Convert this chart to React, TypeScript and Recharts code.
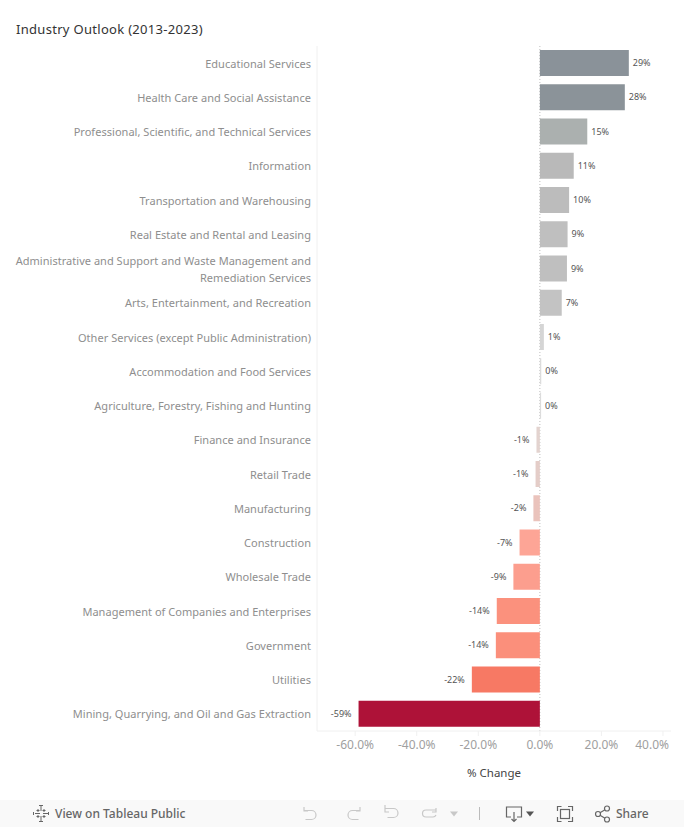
import React from "react";
import { BarChart, Bar, XAxis, YAxis, Cell, LabelList, ReferenceLine } from "recharts";

const categories = [
  "Educational Services",
  "Health Care and Social Assistance",
  "Professional, Scientific, and Technical Services",
  "Information",
  "Transportation and Warehousing",
  "Real Estate and Rental and Leasing",
  "Administrative and Support and Waste Management and Remediation Services",
  "Arts, Entertainment, and Recreation",
  "Other Services (except Public Administration)",
  "Accommodation and Food Services",
  "Agriculture, Forestry, Fishing and Hunting",
  "Finance and Insurance",
  "Retail Trade",
  "Manufacturing",
  "Construction",
  "Wholesale Trade",
  "Management of Companies and Enterprises",
  "Government",
  "Utilities",
  "Mining, Quarrying, and Oil and Gas Extraction",
];
const changes = [28.9, 27.6, 15.4, 11.0, 9.5, 9.0, 8.8, 7.1, 1.3, 0.45, 0.4, -1.1, -1.4, -2.1, -6.6, -8.6, -14.0, -14.3, -22.1, -58.9];
const colors = [
  "#8a9299", "#8b9399", "#abb0af", "#b9b9b9", "#bcbcbc", "#bfbfbf", "#bfbfbf", "#c3c3c3", "#d5d5d5", "#dcdcdc",
  "#dcdcdc", "#e3d3cf", "#e4cdc8", "#eac3bc", "#fda596", "#fc9e8e", "#fb917d", "#fb8f7b", "#f77964", "#ae1238",
];
const xTicks = [-60, -40, -20, 0, 20, 40];
const data = categories.map((name, i) => ({ name, change: changes[i], color: colors[i] }));

const FONT = "'Noto Sans', sans-serif";

function wrap(label: string): string[] {
  const lines: string[] = [];
  let cur = "";
  for (const w of label.split(" ")) {
    const next = cur ? cur + " " + w : w;
    if (next.length > 52) {
      lines.push(cur);
      cur = w;
    } else cur = next;
  }
  lines.push(cur);
  return lines;
}

function CategoryTick({ x, y, payload }: any) {
  const lines = wrap(payload.value);
  const top = y + 4.5 - ((lines.length - 1) * 17) / 2;
  return (
    <text x={x} y={top} textAnchor="end" fontSize={11} letterSpacing={0.03} fontFamily={FONT} fill="#8e8e8e">
      {lines.map((l, i) => (
        <tspan key={i} x={x} y={top + i * 17}>{l}</tspan>
      ))}
    </text>
  );
}

function ValueTick({ x, y, payload }: any) {
  const last = payload.value === 40;
  return (
    <text x={last ? x + 6 : x} y={y + 11} textAnchor={last ? "end" : "middle"} fontSize={12} fontFamily={FONT} fill="#a0a0a0">
      {payload.value.toFixed(1) + "%"}
    </text>
  );
}

function BarValue({ x, y, width, height, value }: any) {
  const neg = value < 0;
  const left = neg ? Math.min(x, x + width) : Math.max(x, x + width);
  return (
    <text
      x={neg ? left - 7 : left + 4}
      y={y + height / 2 + 3}
      textAnchor={neg ? "end" : "start"}
      fontSize={9}
      fontFamily={FONT}
      fill="#555"
    >
      {Math.round(value) === 0 ? "0%" : Math.round(value) + "%"}
    </text>
  );
}

const iconStroke = "#c8c8c8";
const darkStroke = "#666";

function Footer() {
  return (
    <div style={{ position: "absolute", left: 0, top: 800, width: 684, height: 27, background: "#f9f9f9", fontFamily: FONT }}>
      <svg width={684} height={27} style={{ position: "absolute", left: 0, top: 0 }}>
        <g stroke="#666" strokeWidth={1} fill="none">
          <path d="M41 6v5M41 16v5M35 13.500h5M43 13.500h5M38 9v3M36.500 10.500h3M44 9v3M42.500 10.500h3M38 15v3M36.500 16.500h3M44 15v3M42.500 16.500h3M33.500 12v3M48.500 12v3M39 5.500h4M39 21.500h4" />
        </g>
        <g stroke={iconStroke} strokeWidth={1.2} fill="none">
          <path d="M304 7v4h4M304.500 10.500h7a4.500 4.500 0 0 1 0 9h-6" />
          <path d="M360 7v4h-4M359.500 10.500h-7a4.500 4.500 0 0 0 0 9h6" />
          <path d="M385 5v7h4M385.500 8.500h8a4.500 4.500 0 0 1 0 9h-6" />
          <path d="M436 8v4h-4M436 10h-10a3.500 3.500 0 0 0 0 7h7a3.500 3.500 0 0 0 3-2" />
        </g>
        <path d="M450 11.500h8l-4 5z" fill="#c8c8c8" />
        <path d="M479.500 7v13" stroke="#bbb" strokeWidth={1} />
        <g stroke={darkStroke} strokeWidth={1.2} fill="none">
          <path d="M511 17h-4.500v-10h15v10h-4.500M514 12v9M511.500 19l2.500 2.500 2.500-2.500" />
          <path d="M557.500 11v-4.500h4M568 6.500h4.500v4.500M572.500 17v4.500h-4.500M561.500 21.500h-4v-4.500" />
          <rect x="560.500" y="9.500" width="9" height="9" />
          <circle cx="598" cy="14" r="2.500" />
          <circle cx="607" cy="8.500" r="2.500" />
          <circle cx="607" cy="19.500" r="2.500" />
          <path d="M600 12.700l5-3M600 15.300l5 3" />
        </g>
        <path d="M526 11.500h8l-4 5z" fill="#555" />
      </svg>
      <div style={{ position: "absolute", left: 55, top: 5, fontSize: 12, color: "#666", fontWeight: 500, whiteSpace: "nowrap" }}>View on Tableau Public</div>
      <div style={{ position: "absolute", left: 616, top: 5, fontSize: 12, color: "#666", fontWeight: 500 }}>Share</div>
    </div>
  );
}

export default function App() {
  return (
    <div style={{ position: "absolute", left: 0, top: 0, width: 684, height: 827, background: "#fff", overflow: "hidden" }}>
      <div style={{ position: "absolute", left: 16, top: 20, fontSize: 13, letterSpacing: 0.3, fontWeight: 400, color: "#333", fontFamily: FONT, whiteSpace: "nowrap", lineHeight: "18px" }}>
        Industry Outlook (2013-2023)
      </div>
      <BarChart
        width={684}
        height={827}
        data={data}
        layout="vertical"
        margin={{ top: 46, right: 13, bottom: 0, left: 0 }}
        barCategoryGap={4}
        style={{ position: "absolute", left: 0, top: 0 }}
      >
        <XAxis
          type="number"
          domain={[-72.4, 42.6]}
          ticks={xTicks}
          tick={<ValueTick />}
          tickLine={{ stroke: "#f0f0f0" }}
          tickSize={5}
          axisLine={{ stroke: "#f0f0f0" }}
          label={{ value: "% Change", position: "insideBottom", offset: 50, fontSize: 11.500, fontWeight: 400, fontFamily: FONT, fill: "#444" }}
          height={96}
        />
        <YAxis
          type="category"
          dataKey="name"
          width={317}
          interval={0}
          tick={<CategoryTick />}
          tickLine={false}
          tickMargin={0}
          tickSize={6}
          axisLine={{ stroke: "#f0f0f0" }}
        />
        <ReferenceLine x={0} stroke="#bdbdbd" strokeDasharray="1 2" zIndex={0} />
        <Bar dataKey="change" isAnimationActive={false}>
          {data.map((d) => (
            <Cell key={d.name} fill={d.color} />
          ))}
          <LabelList dataKey="change" content={<BarValue />} />
        </Bar>
      </BarChart>
      <Footer />
    </div>
  );
}
